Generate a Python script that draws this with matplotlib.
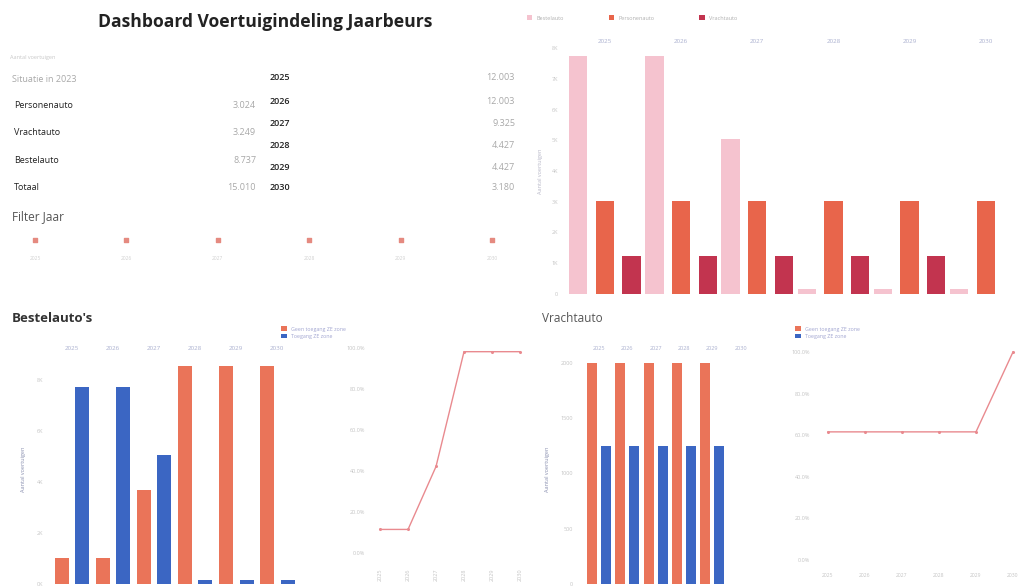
import numpy as np
import matplotlib.pyplot as plt

plt.rcParams['font.family'] = ['Open Sans', 'DejaVu Sans']

W, H = 1022, 586

# --- data -------------------------------------------------------------
years = ['2025', '2026', '2027', '2028', '2029', '2030']

situatie_labels = ['Personenauto', 'Vrachtauto', 'Bestelauto', 'Totaal']
situatie_values = ['3.024', '3.249', '8.737', '15.010']
jaar_totaal = ['12.003', '12.003', '9.325', '4.427', '4.427', '3.180']

# vehicles per type per year (top right)
bestelauto = [7732, 7732, 5054, 156, 156, 156]
personenauto = [3024, 3024, 3024, 3024, 3024, 3024]
vrachtauto = [1247, 1247, 1247, 1247, 1247, 0]

# Bestelauto's: access to zero-emission zone
best_geen = [1005, 1005, 3683, 8581, 8581, 8581]
best_toegang = [7732, 7732, 5054, 156, 156, 156]
best_pct = [11.5, 11.5, 42.2, 98.2, 98.2, 98.2]

# Vrachtauto: access to zero-emission zone
vracht_geen = [2002, 2002, 2002, 2002, 2002, 0]
vracht_toegang = [1247, 1247, 1247, 1247, 1247, 0]
vracht_pct = [61.6, 61.6, 61.6, 61.6, 61.6, 100.0]

C_BEST = '#f5c3cf'
C_PERS = '#e8654b'
C_VRACHT = '#c2344f'
C_GEEN = '#ea7459'
C_TOEG = '#3b66c3'
C_LINE = '#e98a8f'
TICK = '#c4c4c4'
YEARC = '#aab0cf'


def px_axes(fig, left, top, right, bottom):
    return fig.add_axes([left / W, 1 - bottom / H, (right - left) / W, (bottom - top) / H])


def style(ax, fs=4):
    for s in ax.spines.values():
        s.set_visible(False)
    ax.tick_params(length=0, labelsize=fs, colors=TICK)


def fx(x):
    return x / W


def fy(y):
    return 1 - y / H


fig = plt.figure(figsize=(W / 100, H / 100), dpi=100)

# --- header / text tables --------------------------------------------
fig.text(fx(265), fy(22), 'Dashboard Voertuigindeling Jaarbeurs', ha='center', va='center',
         fontsize=12.6, fontweight='bold', color='#222222')
fig.text(fx(10), fy(58), 'Aantal voertuigen', fontsize=4, color='#c8c8c8', va='center')
fig.text(fx(12), fy(80), 'Situatie in 2023', fontsize=6.5, color='#a8a8a8', va='center')

row_y = [106, 133, 160, 187]
for lab, val, y in zip(situatie_labels, situatie_values, row_y):
    fig.text(fx(14), fy(y), lab, fontsize=6.5, color='#222222', va='center')
    fig.text(fx(256), fy(y), val, fontsize=6.5, color='#a8a8a8', va='center', ha='right')

year_y = [78, 101, 124, 146, 168, 188]
for yr, val, y in zip(years, jaar_totaal, year_y):
    fig.text(fx(270), fy(y), yr, fontsize=6.5, color='#222222', va='center', fontweight='semibold')
    fig.text(fx(515), fy(y), val, fontsize=6.5, color='#a8a8a8', va='center', ha='right')

fig.text(fx(12), fy(217), 'Filter Jaar', fontsize=8.5, color='#555555', va='center')

axf = px_axes(fig, 0, 230, 520, 270)
xs = np.arange(len(years))
axf.scatter(xs, np.ones(len(xs)), s=9, marker='s', color='#e58a80')
for x, yr in zip(xs, years):
    axf.text(x, 0.1, yr, fontsize=3.5, color='#d0d0d0', ha='center', va='center')
axf.set_xlim(-35 / 91.4, 485 / 91.4)
axf.set_ylim(-0.5, 1.5)
axf.axis('off')

# --- top right grouped bars ---------------------------------------------
ax1 = px_axes(fig, 563, 48, 1020, 294)
w = 0.24
ax1.bar(xs - 0.35, bestelauto, width=w, color=C_BEST, label='Bestelauto')
ax1.bar(xs, personenauto, width=w, color=C_PERS, label='Personenauto')
ax1.bar(xs + 0.35, vrachtauto, width=w, color=C_VRACHT, label='Vrachtauto')
ax1.set_xlim(-0.55, 5.45)
ax1.set_ylim(0, 8000)
ax1.set_yticks(np.arange(0, 8001, 1000))
ax1.set_yticklabels(['0', '1K', '2K', '3K', '4K', '5K', '6K', '7K', '8K'])
ax1.xaxis.tick_top()
ax1.set_xticks(xs)
ax1.set_xticklabels(years, color=YEARC)
style(ax1)
ax1.tick_params(axis='x', labelsize=4.5, colors=YEARC, pad=3)
ax1.set_ylabel('Aantal voertuigen', fontsize=4, color='#b8b8c8', labelpad=6)
ax1.legend(loc='lower left', bbox_to_anchor=(-0.09, 1.09), ncol=3, fontsize=4, frameon=False,
           handlelength=1.0, handleheight=1.0, columnspacing=8, labelcolor='#b0b0b0')

# --- Bestelauto's --------------------------------------------------------
fig.text(fx(12), fy(318), "Bestelauto's", fontsize=9.5, fontweight='bold', color='#333333', va='center')
ax2 = px_axes(fig, 48, 355, 302, 584)
bw = 0.34
ax2.bar(xs - 0.25, best_geen, width=bw, color=C_GEEN, label='Geen toegang ZE zone')
ax2.bar(xs + 0.25, best_toegang, width=bw, color=C_TOEG, label='Toegang ZE zone')
ax2.set_xlim(-0.58, 5.6)
ax2.set_ylim(0, 9000)
ax2.set_yticks([0, 2000, 4000, 6000, 8000])
ax2.set_yticklabels(['0K', '2K', '4K', '6K', '8K'])
ax2.xaxis.tick_top()
ax2.set_xticks(xs)
ax2.set_xticklabels(years)
style(ax2)
ax2.tick_params(axis='x', labelsize=4.5, colors=YEARC, pad=3)
ax2.set_ylabel('Aantal voertuigen', fontsize=4, color='#8a90b0', labelpad=8)
ax2.legend(loc='lower left', bbox_to_anchor=(0.9, 1.05), fontsize=3.8, frameon=False,
           handlelength=1.0, handleheight=1.0, labelspacing=0.4, labelcolor='#a0a4d0')

ax3 = px_axes(fig, 370, 340, 525, 560)
ax3.plot(xs, best_pct, color=C_LINE, lw=1.0, marker='o', ms=1.2)
ax3.set_xlim(-0.36, 5.18)
ax3.set_ylim((553 - 560) / 2.05, (553 - 340) / 2.05)
ax3.set_yticks(np.arange(0, 101, 20))
ax3.set_yticklabels([f'{v:.1f}%' for v in np.arange(0, 101, 20)])
ax3.set_xticks(xs)
ax3.set_xticklabels(years, rotation=90)
style(ax3)
ax3.tick_params(axis='x', pad=6)

# --- Vrachtauto ----------------------------------------------------------
fig.text(fx(542), fy(318), 'Vrachtauto', fontsize=8.5, color='#555555', va='center')
ax4 = px_axes(fig, 578, 355, 748, 584)
vw = 0.35
ax4.bar(xs - 0.25, vracht_geen, width=vw, color=C_GEEN, label='Geen toegang ZE zone')
ax4.bar(xs + 0.25, vracht_toegang, width=vw, color=C_TOEG, label='Toegang ZE zone')
ax4.set_xlim(-0.74, 5.26)
ax4.set_ylim(0, 2070)
ax4.set_yticks([0, 500, 1000, 1500, 2000])
ax4.set_yticklabels(['0', '500', '1000', '1500', '2000'])
ax4.xaxis.tick_top()
ax4.set_xticks(xs)
ax4.set_xticklabels(years)
style(ax4)
ax4.tick_params(axis='x', labelsize=4, colors=YEARC, pad=3)
ax4.set_ylabel('Aantal voertuigen', fontsize=4, color='#8a90b0', labelpad=8)
ax4.legend(loc='lower left', bbox_to_anchor=(1.25, 1.05), fontsize=3.8, frameon=False,
           handlelength=1.0, handleheight=1.0, labelspacing=0.4, labelcolor='#a0a4d0')

ax5 = px_axes(fig, 815, 345, 1020, 565)
ax5.plot(xs, vracht_pct, color=C_LINE, lw=1.0, marker='o', ms=1.2)
ax5.set_xlim((815 - 828) / 37, (1020 - 828) / 37)
ax5.set_ylim((560 - 565) / 2.08, (560 - 345) / 2.08)
ax5.set_yticks(np.arange(0, 101, 20))
ax5.set_yticklabels([f'{v:.1f}%' for v in np.arange(0, 101, 20)])
ax5.set_xticks(xs)
ax5.set_xticklabels(years)
style(ax5)
ax5.tick_params(axis='x', pad=6, labelsize=3.6)

plt.savefig('out.png', dpi=100)
